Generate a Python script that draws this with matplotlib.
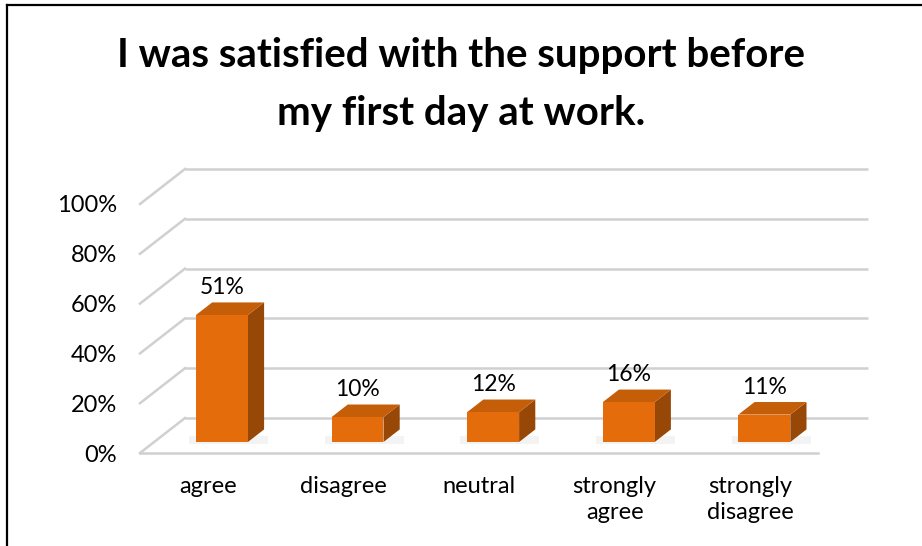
import matplotlib
matplotlib.use('Agg')
import matplotlib.pyplot as plt
from matplotlib.patches import Polygon
from matplotlib.lines import Line2D

# data
categories = ['agree', 'disagree', 'neutral', 'strongly\nagree', 'strongly\ndisagree']
values = [51, 10, 12, 16, 11]
value_labels = ['51%', '10%', '12%', '16%', '11%']
yticks = [0, 20, 40, 60, 80, 100]
ytick_labels = ['0%', '20%', '40%', '60%', '80%', '100%']
title = 'I was satisfied with the support before\nmy first day at work.'

plt.rcParams['font.family'] = ['Lato', 'DejaVu Sans']

W, H = 922, 546
fig = plt.figure(figsize=(W / 100, H / 100), dpi=100)

# one axes over the whole figure: x = category slot, y = percent
ax = fig.add_axes([0, 0, 1, 1])
px_x = 135.6   # pixels per category slot
px_y = 2.49    # pixels per percent
x0, y0 = 140, 453  # pixel of front floor corner (-0.5, 0)
ax.set_xlim(-0.5 - x0 / px_x, -0.5 + (W - x0) / px_x)
ax.set_ylim(-(H - y0) / px_y, y0 / px_y)
ax.axis('off')

# fake 3d depth
dx = 45 / px_x
dy = 35 / px_y
n = len(categories)
grid_c = '#d0d0d0'

# back wall gridlines + side diagonals
for t in yticks:
    ax.plot([-0.5 + dx, n - 0.5 + dx + 0.04], [t + dy, t + dy], color=grid_c, lw=1.8,
            solid_capstyle='butt', zorder=1)
    ax.plot([-0.5, -0.5 + dx], [t, t + dy], color=grid_c, lw=1.8, zorder=1)
# front floor edge
ax.plot([-0.5, n - 0.5], [0, 0], color=grid_c, lw=1.8, zorder=1)

# bars
w = 0.383
f0 = 0.314   # where the bar front sits in depth
bd = 0.36    # bar depth
front_c = '#e46c0a'
top_c = '#c45e09'
side_c = '#974706'
for i, v in enumerate(values):
    xl = i + f0 * dx - w / 2
    xr = xl + w
    yb = f0 * dy
    yt = yb + v
    ox, oy = bd * dx, bd * dy
    # soft shadow on floor
    ax.add_patch(Polygon([(xl - 0.05, yb - 0.8), (xr + ox + 0.03, yb - 0.8),
                          (xr + ox + 0.03, yb + oy * 0.5), (xl - 0.05, yb + oy * 0.5)],
                         closed=True, facecolor='#f3f3f3', edgecolor='none', zorder=2))
    ax.add_patch(Polygon([(xr, yb), (xr + ox, yb + oy), (xr + ox, yt + oy), (xr, yt)],
                         closed=True, facecolor=side_c, edgecolor='none', zorder=3))
    ax.add_patch(Polygon([(xl, yt), (xr, yt), (xr + ox, yt + oy), (xl + ox, yt + oy)],
                         closed=True, facecolor=top_c, edgecolor='none', zorder=3))
    ax.add_patch(Polygon([(xl, yb), (xr, yb), (xr, yt), (xl, yt)],
                         closed=True, facecolor=front_c, edgecolor='none', zorder=4))
    ax.text(xl + w / 2, yt + oy + 15 / px_y, value_labels[i], ha='center', va='center',
            fontsize=16.5, color='#000000', zorder=5)

# y tick labels
for t, lab in zip(yticks, ytick_labels):
    ax.text(-0.5 - 23 / px_x, t - 2 / px_y, lab, ha='right', va='center', fontsize=17)

# category labels
for i, c in enumerate(categories):
    ax.text(i, -23 / px_y, c, ha='center', va='top', fontsize=17, linespacing=1.32)

# title
fig.text(0.5, 1 - 85 / H, title, ha='center', va='center', fontsize=29,
         fontweight='bold', linespacing=1.7)

# chart border (top and left visible)
fig.add_artist(Line2D([7 / W, 7 / W], [0, 1 - 5 / H], color='black', lw=1.6))
fig.add_artist(Line2D([7 / W, 1], [1 - 5 / H, 1 - 5 / H], color='black', lw=1.6))

fig.savefig('out.png', dpi=100)
